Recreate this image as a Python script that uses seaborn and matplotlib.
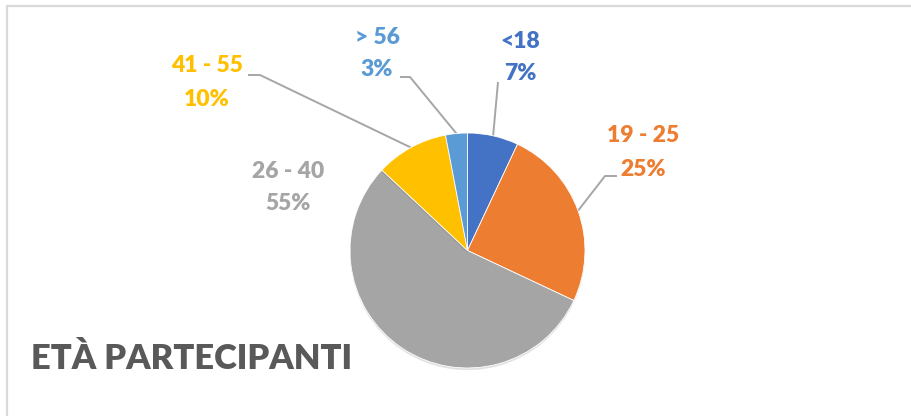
import numpy as np
import matplotlib
matplotlib.use("Agg")
import matplotlib.pyplot as plt
import seaborn as sns
from matplotlib import patheffects as pe

sns.set_theme(style="white")
plt.rcParams['font.family'] = ['Lato', 'DejaVu Sans']

# ---- data ----
categories = ["<18", "19 - 25", "26 - 40", "41 - 55", "> 56"]
percent = [7, 25, 55, 10, 3]
colors = ["#4472C4", "#ED7D31", "#A5A5A5", "#FFC000", "#5B9BD5"]
title = "ETÀ PARTECIPANTI"

# ---- layout (pixel space, y measured from top) ----
W, H = 912, 416
cx, cy, R = 467.5, 250.5, 117.5
label_pos = {  # (center x, line1 y, line2 y)
    "<18": (520, 42, 74),
    "19 - 25": (643, 135, 170),
    "26 - 40": (288, 172, 204),
    "41 - 55": (207, 66, 100),
    "> 56": (377, 37, 70),
}
leader = {  # elbow points from label side
    "<18": [(498, 82)],
    "19 - 25": [(617, 176), (605, 176)],
    "41 - 55": [(248, 75), (260, 75)],
    "> 56": [(400, 77), (410, 77)],
}

fig = plt.figure(figsize=(W / 100, H / 100), dpi=100)
ax = fig.add_axes([0, 0, 1, 1])

wedges, _ = ax.pie(percent, colors=colors, startangle=90, counterclock=False,
                   center=(cx, H - cy), radius=R,
                   wedgeprops=dict(linewidth=0.6, edgecolor="white"))
for w in wedges:
    w.set_path_effects([pe.SimplePatchShadow(offset=(0, -1.5), shadow_rgbFace="#000000", alpha=0.12),
                        pe.Normal()])

ax.set_xlim(0, W)
ax.set_ylim(0, H)
ax.set_aspect("equal")
ax.axis("off")

line_col = "#A6A6A6"
for cat, pct, col, w in zip(categories, percent, colors, wedges):
    lx, y1, y2 = label_pos[cat]
    ax.text(lx, H - y1, cat, color=col, fontsize=16.5, fontweight="heavy",
            ha="center", va="center")
    ax.text(lx, H - y2, f"{pct}%", color=col, fontsize=16.5, fontweight="heavy",
            ha="center", va="center")
    if cat in leader:
        mid = np.deg2rad((w.theta1 + w.theta2) / 2)
        ex = cx + R * np.cos(mid)
        ey = (H - cy) + R * np.sin(mid)
        pts = [(x, H - y) for x, y in leader[cat]] + [(ex, ey)]
        xs, ys = zip(*pts)
        ax.plot(xs, ys, color=line_col, lw=1.4, solid_capstyle="butt", zorder=0.5)

ax.text(31, H - 369, title, color="#595959", fontsize=24.8, fontweight="heavy",
        ha="left", va="baseline")

# chart-area border (top and left edges visible)
fig.add_artist(plt.Line2D([7.5 / W, 1], [1 - 5.5 / H, 1 - 5.5 / H], color="#D9D9D9", lw=1.6,
                          transform=fig.transFigure))
fig.add_artist(plt.Line2D([7.5 / W, 7.5 / W], [0, 1 - 5.5 / H], color="#D9D9D9", lw=1.6,
                          transform=fig.transFigure))

fig.savefig("out.png", dpi=100, facecolor="white")
